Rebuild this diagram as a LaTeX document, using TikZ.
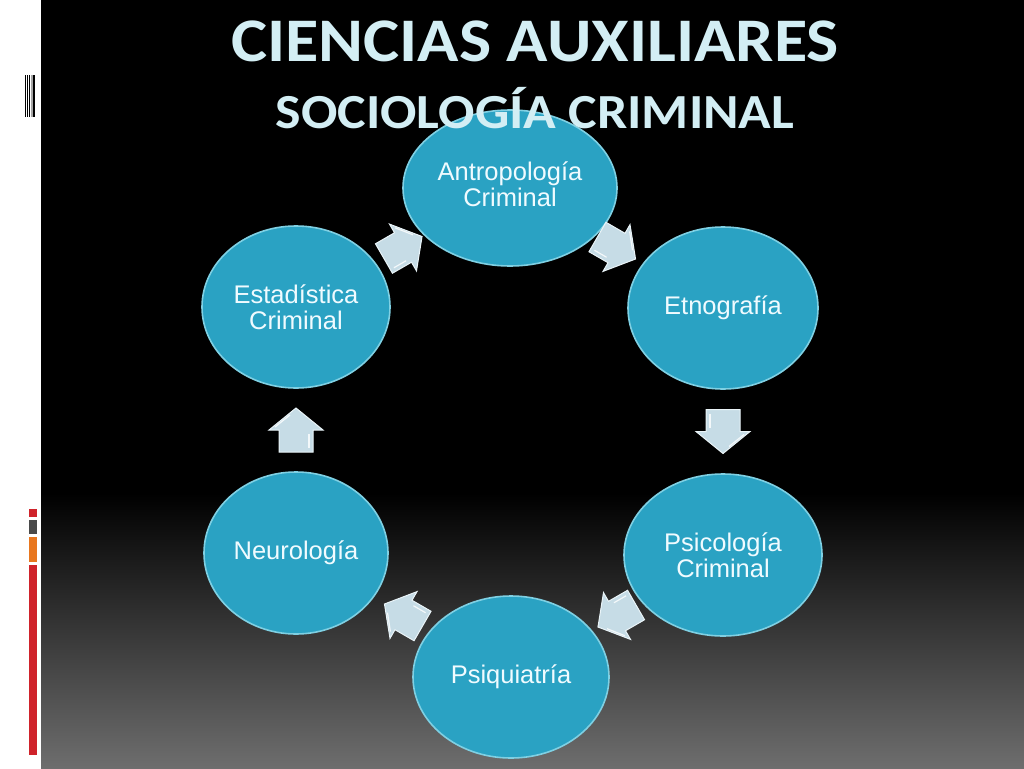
\documentclass[tikz,border=0pt]{standalone}
\usepackage{fontspec}
\setmainfont{Liberation Sans}
\newfontfamily\titlefont{Carlito}
\usetikzlibrary{shapes.geometric,calc}
\definecolor{ellfill}{HTML}{2AA2C3}
\definecolor{ellrim}{HTML}{7FD0E3}
\definecolor{txt}{HTML}{F0FBFF}
\definecolor{titlecol}{HTML}{D3EEF4}
\definecolor{arrfill}{HTML}{C6DCE6}
\definecolor{arredge}{HTML}{EAF4F8}
\definecolor{decred}{HTML}{CF232B}
\definecolor{decgray}{HTML}{4A4A4A}
\definecolor{decorange}{HTML}{E8771F}
\tikzset{
  ell/.style={ellipse, fill=ellfill, draw=ellrim, line width=1.6pt, inner sep=0pt,
    text=txt, font=\fontsize{25.5}{26}\selectfont, align=center},
  titletext/.style={text=titlecol, inner sep=0pt, anchor=base},
  blockarr/.pic={
    \filldraw[fill=arrfill, draw=arredge, line width=1pt]
      (-22,-17) -- (0,-17) -- (0,-27) -- (22,0) -- (0,27) -- (0,17) -- (-22,17) -- cycle;
    \draw[white, line width=1.2pt, opacity=0.8] (3,-21) -- (15,-6);
    \draw[white, line width=1.2pt, opacity=0.8] (-18,13) -- (-4,13);
  }
}
\begin{document}
\begin{tikzpicture}[x=1pt,y=-1pt]
\useasboundingbox (0,0) rectangle (1024,768);
% background
\fill[white] (0,0) rectangle (1024,768);
\fill[black] (41,0) rectangle (1024,495);
\shade[top color=black, bottom color=black!57!white] (41,493) rectangle (1024,768);
% left decorations
\fill[black] (25,75) rectangle (25.8,117);
\fill[black] (26.8,75) rectangle (27.8,117);
\fill[black] (29,75) rectangle (30,117);
\fill[gray!70] (31,75) rectangle (32.7,117);
\fill[black] (33.3,75) rectangle (35,117);
\fill[decred] (28.7,509) rectangle (36.7,517);
\fill[decgray] (28.7,519.5) rectangle (36.7,534);
\fill[decorange] (28.7,537) rectangle (36.7,562);
\fill[decred] (28.7,565) rectangle (36.7,755);
% ellipses
\node[ell, minimum width=214pt, minimum height=156pt] (antrop) at (510,188) {};
\node[text=txt, font=\fontsize{25.5}{26}\selectfont, align=center, inner sep=0pt] (antroptext) at (510,184) {Antropología\\Criminal};
\node[ell, minimum width=190pt, minimum height=162pt] (etno) at (723,308) {Etnografía};
\node[ell, minimum width=198pt, minimum height=162pt] (psic) at (723,555) {Psicología\\Criminal};
\node[ell, minimum width=196pt, minimum height=162pt] (psiq) at (511,677) {Psiquiatría};
\node[ell, minimum width=184pt, minimum height=162pt] (neuro) at (296,553) {Neurología};
\node[ell, minimum width=188pt, minimum height=162pt] (estad) at (296,307) {Estadística\\Criminal};
% block arrows (clockwise)
\path ($(estad)!0.5!(antrop)$) pic[rotate=30] {blockarr};
\path ($(antrop)!0.5!(etno)$) pic[rotate=-30] {blockarr};
\path ($(etno)!0.5!(psic)$) pic[rotate=-90] {blockarr};
\path ($(psic)!0.5!(psiq)$) pic[rotate=-150] {blockarr};
\path ($(psiq)!0.5!(neuro)$) pic[rotate=150] {blockarr};
\path ($(neuro)!0.5!(estad)$) pic[rotate=90] {blockarr};
% titles
\node[titletext] (t1) at (535,62) {\titlefont\bfseries\fontsize{62}{62}\selectfont\scalebox{1.1}[1]{CIENCIAS AUXILIARES}};
\node[titletext] (t2) at (535,128) {\titlefont\bfseries\fontsize{49}{49}\selectfont\scalebox{1.1}[1]{SOCIOLOGÍA CRIMINAL}};
\end{tikzpicture}
\end{document}
